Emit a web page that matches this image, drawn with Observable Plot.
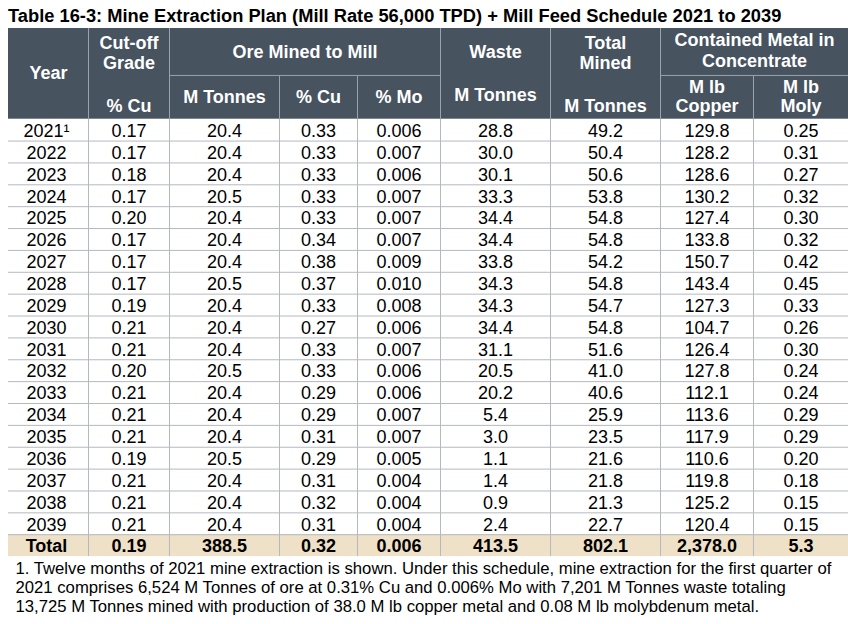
<!DOCTYPE html>
<html><head><meta charset="utf-8">
<script src="https://cdn.jsdelivr.net/npm/d3@7"></script>
<script src="https://cdn.jsdelivr.net/npm/@observablehq/plot@0.6"></script>
<style>
html,body{margin:0;padding:0;background:#fff;}
body{width:848px;height:624px;overflow:hidden;font-family:"Liberation Sans",Arial,sans-serif;color:#000;}
#title{box-sizing:border-box;height:28px;padding:6.4px 0 0 8px;line-height:20px;font-size:18.3px;font-weight:bold;white-space:nowrap;}
#chart svg{display:block;}
#note{box-sizing:border-box;padding:1.9px 0 0 15.5px;font-size:16.7px;line-height:19px;white-space:nowrap;}
</style></head>
<body>
<div id="title"></div>
<div id="chart"></div>
<div id="note"></div>
<script>
// ---------- data ----------
const titleText = "Table 16-3: Mine Extraction Plan (Mill Rate 56,000 TPD) + Mill Feed Schedule 2021 to 2039";
const years = [2021,2022,2023,2024,2025,2026,2027,2028,2029,2030,2031,2032,2033,2034,2035,2036,2037,2038,2039];
const cutoffGrade = [0.17,0.17,0.18,0.17,0.20,0.17,0.17,0.17,0.19,0.21,0.21,0.20,0.21,0.21,0.21,0.19,0.21,0.21,0.21];
const oreTonnes = [20.4,20.4,20.4,20.5,20.4,20.4,20.4,20.5,20.4,20.4,20.4,20.5,20.4,20.4,20.4,20.5,20.4,20.4,20.4];
const oreCu = [0.33,0.33,0.33,0.33,0.33,0.34,0.38,0.37,0.33,0.27,0.33,0.33,0.29,0.29,0.31,0.29,0.31,0.32,0.31];
const oreMo = [0.006,0.007,0.006,0.007,0.007,0.007,0.009,0.010,0.008,0.006,0.007,0.006,0.006,0.007,0.007,0.005,0.004,0.004,0.004];
const wasteTonnes = [28.8,30.0,30.1,33.3,34.4,34.4,33.8,34.3,34.3,34.4,31.1,20.5,20.2,5.4,3.0,1.1,1.4,0.9,2.4];
const totalMined = [49.2,50.4,50.6,53.8,54.8,54.8,54.2,54.8,54.7,54.8,51.6,41.0,40.6,25.9,23.5,21.6,21.8,21.3,22.7];
const copperMlb = [129.8,128.2,128.6,130.2,127.4,133.8,150.7,143.4,127.3,104.7,126.4,127.8,112.1,113.6,117.9,110.6,119.8,125.2,120.4];
const molyMlb = [0.25,0.31,0.27,0.32,0.30,0.32,0.42,0.45,0.33,0.26,0.30,0.24,0.24,0.29,0.29,0.20,0.18,0.15,0.15];
const totalLabel = "Total";
const totalsRow = [0.19, 388.5, 0.32, 0.006, 413.5, 802.1, 2378.0, 5.3];
const footnoteYear = 2021;
const footnoteMark = "¹";
const footnoteLines = [
  "1. Twelve months of 2021 mine extraction is shown. Under this schedule, mine extraction for the first quarter of",
  "2021 comprises 6,524 M Tonnes of ore at 0.31% Cu and 0.006% Mo with 7,201 M Tonnes waste totaling",
  "13,725 M Tonnes mined with production of 38.0 M lb copper metal and 0.08 M lb molybdenum metal."
];
// header labels
const headerTop = ["Year", "Cut-off", "Grade", "Ore Mined to Mill", "Waste", "Total", "Mined", "Contained Metal in", "Concentrate"];
const headerSub = ["% Cu", "M Tonnes", "% Cu", "% Mo", "M Tonnes", "M Tonnes", "M lb", "Copper", "M lb", "Moly"];

// ---------- layout ----------
const colEdges = [8, 88, 169, 279, 357, 440, 550, 660, 753, 848];
const rowPx = 21.87;
const hdrUnits = 4.147, subUnits = 2;
const nRows = years.length + 1;
const span = (a, b) => (colEdges[a] + colEdges[b + 1]) / 2;
const fmts = [d3.format(".2f"), d3.format(".1f"), d3.format(".2f"), d3.format(".3f"), d3.format(".1f"), d3.format(".1f"), d3.format(",.1f"), d3.format(".2f")];
const totalFmts = [d3.format(".2f"), d3.format(".1f"), d3.format(".2f"), d3.format(".3f"), d3.format(".1f"), d3.format(".1f"), d3.format(",.1f"), d3.format(".1f")];
const series = [cutoffGrade, oreTonnes, oreCu, oreMo, wasteTonnes, totalMined, copperMlb, molyMlb];

const headerCells = [
  {t: headerTop[0], x: span(0,0), y: -2.079},
  {t: headerTop[1], x: span(1,1), y: -3.482},
  {t: headerTop[2], x: span(1,1), y: -2.536},
  {t: headerSub[0], x: span(1,1), y: -0.615},
  {t: headerTop[3], x: span(2,4), y: -3.04},
  {t: headerSub[1], x: span(2,2), y: -0.995},
  {t: headerSub[2], x: span(3,3), y: -0.995},
  {t: headerSub[3], x: span(4,4), y: -0.995},
  {t: headerTop[4], x: span(5,5), y: -3.04},
  {t: headerSub[4], x: span(5,5), y: -1.086},
  {t: headerTop[5], x: span(6,6), y: -3.482},
  {t: headerTop[6], x: span(6,6), y: -2.536},
  {t: headerSub[5], x: span(6,6), y: -0.615},
  {t: headerTop[7], x: span(7,8), y: -3.601},
  {t: headerTop[8], x: span(7,8), y: -2.641},
  {t: headerSub[6], x: span(7,7), y: -1.452},
  {t: headerSub[7], x: span(7,7), y: -0.615},
  {t: headerSub[8], x: span(8,8), y: -1.452},
  {t: headerSub[9], x: span(8,8), y: -0.615}
];

const bodyCells = [];
years.forEach((yr, i) => {
  bodyCells.push({row: i, col: 0, label: yr === footnoteYear ? yr + footnoteMark : String(yr)});
  series.forEach((s, j) => bodyCells.push({row: i, col: j + 1, label: fmts[j](s[i])}));
});
const totalCells = [{col: 0, label: totalLabel}].concat(totalsRow.map((v, j) => ({col: j + 1, label: totalFmts[j](v)})));

const hdrFullSeps = [1, 2, 5, 6, 7].map(i => colEdges[i]);
const hdrSubSeps = [3, 4, 8].map(i => colEdges[i]);
const hdrSubLines = [[2, 4], [7, 8]];

const HDR = "#47535f", HDRLINE = "#9aa2ab", GRID = "#b4b9bf", TOTALBG = "#eee1c7";

document.getElementById("title").textContent = titleText;
document.getElementById("note").innerHTML = footnoteLines.map(l => `<div>${l}</div>`).join("");

const chart = Plot.plot({
  width: 848,
  height: 529,
  margin: 0,
  style: {fontFamily: '"Liberation Sans", Arial, sans-serif', background: "#fff"},
  x: {domain: [0, 848], range: [0, 848], axis: null},
  y: {domain: [-hdrUnits, nRows], range: [0, nRows * rowPx + hdrUnits * rowPx], axis: null},
  marks: [
    Plot.rect([0], {x1: () => colEdges[0], x2: () => colEdges[9], y1: () => -hdrUnits, y2: () => 0, fill: HDR}),
    Plot.rect([0], {x1: () => colEdges[0], x2: () => colEdges[9], y1: () => nRows - 1, y2: () => nRows, fill: TOTALBG}),
    Plot.ruleY(d3.range(1, nRows), {y: d => d, x1: () => colEdges[0], x2: () => colEdges[9], stroke: GRID}),
    Plot.ruleX(colEdges.slice(1, 9), {x: d => d, y1: () => 0, y2: () => nRows, stroke: GRID}),
    Plot.ruleX(hdrFullSeps, {x: d => d, y1: () => -hdrUnits, y2: () => 0, stroke: HDRLINE}),
    Plot.ruleX(hdrSubSeps, {x: d => d, y1: () => -subUnits, y2: () => 0, stroke: HDRLINE}),
    Plot.ruleY(hdrSubLines, {y: () => -subUnits, x1: d => colEdges[d[0]], x2: d => colEdges[d[1] + 1], stroke: HDRLINE}),
    Plot.text(headerCells, {x: "x", y: "y", text: "t", fill: "#fff", fontSize: 18, fontWeight: "bold"}),
    Plot.text(bodyCells, {x: d => span(d.col, d.col) + (d.col === 0 ? -2 : 0), y: d => d.row + 0.5, text: "label", fill: "#000", fontSize: 18, dy: 1}),
    Plot.text(totalCells, {x: d => span(d.col, d.col) + (d.col === 0 ? -2 : 0), y: () => nRows - 0.5, text: "label", fill: "#000", fontSize: 18, fontWeight: "bold", dy: 1})
  ]
});
document.getElementById("chart").appendChild(chart);
</script>
</body></html>
